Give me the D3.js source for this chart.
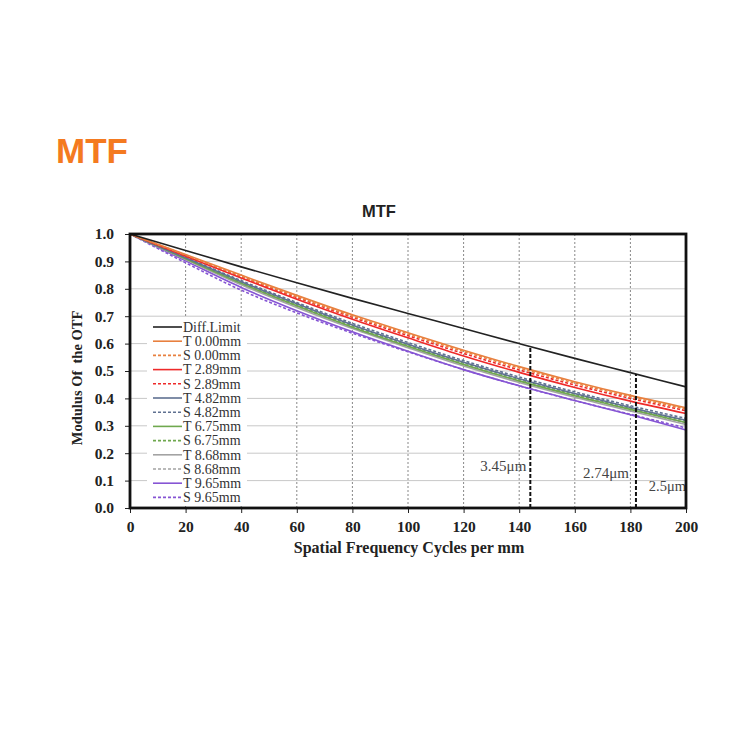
<!DOCTYPE html>
<html><head><meta charset="utf-8">
<script src="https://cdn.jsdelivr.net/npm/d3@7"></script>
<style>body{margin:0;background:#fff;}svg{display:block;}</style>
</head><body>
<svg id="c" width="750" height="750"></svg>
<script>
const freqs = [0,20,40,60,80,100,120,140,160,180,200];
const xTicks = [0,20,40,60,80,100,120,140,160,180,200];
const yTicks = [0,0.1,0.2,0.3,0.4,0.5,0.6,0.7,0.8,0.9,1.0];
const seriesNames = ["Diff.Limit","T 0.00mm","S 0.00mm","T 2.89mm","S 2.89mm","T 4.82mm","S 4.82mm","T 6.75mm","S 6.75mm","T 8.68mm","S 8.68mm","T 9.65mm","S 9.65mm"];
const diffLimit = [1,0.94,0.88,0.822,0.765,0.71,0.655,0.60,0.546,0.494,0.442];
const t000 = [1,0.925,0.85,0.776,0.705,0.64,0.576,0.516,0.461,0.411,0.366];
const s000 = [1,0.923,0.846,0.771,0.700,0.635,0.571,0.511,0.456,0.406,0.361];
const t289 = [1,0.919,0.839,0.762,0.689,0.621,0.555,0.495,0.440,0.390,0.345];
const s289 = [1,0.922,0.844,0.768,0.696,0.629,0.564,0.504,0.449,0.400,0.355];
const t482 = [1,0.913,0.826,0.745,0.668,0.598,0.532,0.472,0.418,0.367,0.320];
const s482 = [1,0.915,0.830,0.750,0.674,0.604,0.538,0.478,0.424,0.373,0.327];
const t675 = [1,0.910,0.820,0.738,0.660,0.590,0.524,0.464,0.410,0.360,0.312];
const s675 = [1,0.912,0.824,0.742,0.665,0.595,0.530,0.470,0.415,0.365,0.318];
const t868 = [1,0.907,0.815,0.732,0.655,0.585,0.518,0.458,0.404,0.354,0.305];
const s868 = [1,0.909,0.818,0.736,0.660,0.590,0.524,0.464,0.410,0.360,0.310];
const t965 = [1,0.902,0.805,0.720,0.643,0.572,0.505,0.446,0.392,0.340,0.285];
const s965 = [1,0.895,0.795,0.712,0.638,0.570,0.505,0.446,0.392,0.342,0.292];
const seriesValues = [diffLimit,t000,s000,t289,s289,t482,s482,t675,s675,t868,s868,t965,s965];
const seriesColors = ["#222222","#e8803f","#e8803f","#ee2a2a","#ee2a2a","#5f7191","#5f7191","#6fa84e","#6fa84e","#a3a3a3","#a3a3a3","#8655d4","#8655d4"];
const seriesDashed = [false,false,true,false,true,false,true,false,true,false,true,false,true];
const pixelMarks = [{f:144, label:"3.45\u03bcm"},{f:182, label:"2.74\u03bcm"}];
const extraLabel = "2.5\u03bcm";

const svg = d3.select("#c");
const L=130, R=686, T=234, B=508;
const x = d3.scaleLinear().domain([0,200]).range([L,R]);
const y = d3.scaleLinear().domain([0,1]).range([B,T]);
const serif = "'Liberation Serif','Times New Roman',serif";
const sans = "'Liberation Sans',Arial,sans-serif";

svg.append("text").attr("x",56).attr("y",163).attr("font-family",sans).attr("font-weight","bold")
  .attr("font-size",35).attr("fill","#f47a20").text("MTF");
svg.append("text").attr("x",379).attr("y",217).attr("text-anchor","middle").attr("font-family",sans)
  .attr("font-weight","bold").attr("font-size",16.5).attr("fill","#222").text("MTF");

// grid
svg.append("g").selectAll("line").data(yTicks.slice(1,-1)).join("line")
  .attr("x1",L).attr("x2",R).attr("y1",d=>y(d)).attr("y2",d=>y(d)).attr("stroke","#c8c8c8").attr("stroke-width",1);
svg.append("g").selectAll("line").data(xTicks.slice(1,-1)).join("line")
  .attr("y1",T).attr("y2",B).attr("x1",d=>x(d)).attr("x2",d=>x(d)).attr("stroke","#888").attr("stroke-width",1).attr("stroke-dasharray","2,2");

// axes
const xa = svg.append("g").attr("transform",`translate(0,${B})`).call(d3.axisBottom(x).tickValues(xTicks).tickSize(5).tickSizeOuter(0).tickFormat(d3.format("d")));
const ya = svg.append("g").attr("transform",`translate(${L},0)`).call(d3.axisLeft(y).tickValues(yTicks).tickSize(5).tickSizeOuter(0).tickFormat(d3.format(".1f")));
[xa,ya].forEach(a=>{a.select(".domain").remove();a.selectAll("line").attr("stroke","#222");
  a.selectAll("text").attr("font-family",serif).attr("font-weight","bold").attr("font-size",15.5).attr("fill","#222");});
xa.selectAll("text").attr("dy","1.05em");
ya.selectAll("text").attr("x",-16);

svg.append("text").attr("x",409).attr("y",553).attr("text-anchor","middle").attr("font-family",serif)
  .attr("font-weight","bold").attr("font-size",16).attr("fill","#222").text("Spatial Frequency Cycles per mm");
svg.append("text").attr("transform",`translate(82,378) rotate(-90)`).attr("text-anchor","middle").attr("font-family",serif)
  .attr("font-weight","bold").attr("font-size",14.5).attr("fill","#222").attr("xml:space","preserve").text("Modulus Of  the OTF");

// curves
const line = d3.line().x((d,i)=>x(freqs[i])).y(d=>y(d)).curve(d3.curveMonotoneX);
const order = d3.range(seriesValues.length).slice(1).reverse().concat([0]);
svg.append("g").selectAll("path").data(order).join("path")
  .attr("d",i=>line(seriesValues[i])).attr("fill","none").attr("stroke",i=>seriesColors[i])
  .attr("stroke-width",1.6).attr("stroke-dasharray",i=>seriesDashed[i]?"3,2":null);

// pixel marks
const diffAt = f => { const i = d3.bisectLeft(freqs,f); const t=(f-freqs[i-1])/(freqs[i]-freqs[i-1]); return diffLimit[i-1]+(diffLimit[i]-diffLimit[i-1])*t; };
svg.append("g").selectAll("line").data(pixelMarks).join("line")
  .attr("x1",d=>x(d.f)).attr("x2",d=>x(d.f)).attr("y1",B).attr("y2",d=>y(diffAt(d.f)))
  .attr("stroke","#111").attr("stroke-width",2).attr("stroke-dasharray","4,2");
svg.append("text").attr("x",x(144)-4).attr("y",471).attr("text-anchor","end").attr("font-family",serif).attr("font-size",15).attr("fill","#444").text(pixelMarks[0].label);
svg.append("text").attr("x",x(182)-7).attr("y",478).attr("text-anchor","end").attr("font-family",serif).attr("font-size",15).attr("fill","#444").text(pixelMarks[1].label);
svg.append("text").attr("x",R).attr("y",491).attr("text-anchor","end").attr("font-family",serif).attr("font-size",14.5).attr("fill","#444").text(extraLabel);

// legend
const lg = svg.append("g");
lg.append("rect").attr("x",147).attr("y",318).attr("width",100).attr("height",187).attr("fill","#fff");
const items = lg.selectAll("g").data(seriesNames).join("g").attr("transform",(d,i)=>`translate(153,${327+i*14.2})`);
items.append("line").attr("x1",0).attr("x2",29).attr("y1",0).attr("y2",0)
  .attr("stroke",(d,i)=>seriesColors[i]).attr("stroke-width",1.6).attr("stroke-dasharray",(d,i)=>seriesDashed[i]?"3,2":null);
items.append("text").attr("x",30).attr("y",4.8).attr("font-family",serif).attr("font-size",14).attr("fill","#333").text(d=>d);

// border
svg.append("rect").attr("x",L).attr("y",T).attr("width",R-L).attr("height",B-T).attr("fill","none").attr("stroke","#111").attr("stroke-width",2.8);
</script>
</body></html>
